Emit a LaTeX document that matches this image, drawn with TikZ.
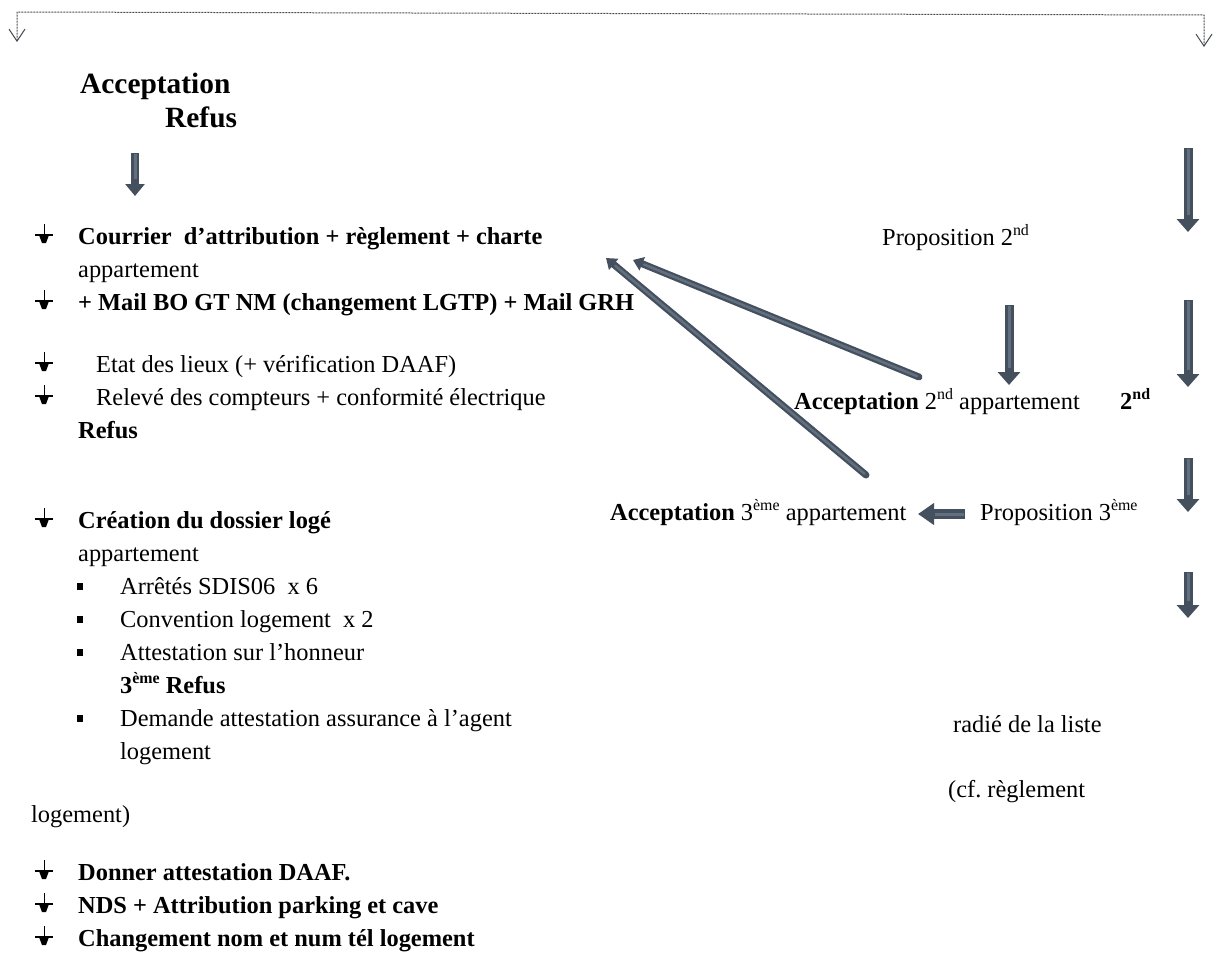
\documentclass[tikz,border=0pt]{standalone}
\usepackage{fontspec}
\setmainfont{Liberation Serif}
\usetikzlibrary{arrows.meta,positioning}

\definecolor{arrowslate}{RGB}{68,80,94}
\definecolor{arrowlight}{RGB}{98,111,126}
\definecolor{lineslate}{RGB}{70,74,82}

\newcommand{\ordsup}[1]{\raisebox{0.38em}{\fontsize{15.9}{16}\selectfont #1}}

\tikzset{
  pinmark/.pic={
    \draw[line width=1pt] (0,-20) -- (0,-9);
    \draw[line width=1.3pt] (-9,-9) -- (9,-9);
    \fill (-5,-9) -- (5,-9) -- (2,-1) -- (-2,-1) -- cycle;
  },
  squaremark/.pic={
    \fill (-3,-11) rectangle (3,-4);
  }
}

\begin{document}
\begin{tikzpicture}[x=1pt, y=-1pt,
  txt/.style={anchor=base west, inner sep=0pt, font=\fontsize{24.4}{30}\selectfont},
  bold txt/.style={txt, font=\fontsize{24.4}{30}\selectfont\bfseries},
  big txt/.style={anchor=base west, inner sep=0pt, font=\fontsize{29.4}{34}\selectfont\bfseries},
  block arrow/.style={draw=arrowslate, line width=9pt, -{Triangle[width=22pt,length=13pt]},
    postaction={draw=arrowlight, line width=3pt, arrows=-, shorten >=17pt, shorten <=1pt}},
  thin arrow/.style={draw=arrowslate, line width=7pt, line cap=round, -{Triangle[width=14pt,length=10pt]},
    postaction={draw=arrowlight, line width=2.5pt, arrows=-, shorten >=12pt, shorten <=2pt}},
  top link/.style={draw=lineslate, line width=1pt, dash pattern=on 2pt off 1pt,
    {Straight Barb[length=12pt,width=16pt]}-{Straight Barb[length=12pt,width=16pt]}}]
  \useasboundingbox (0,0) rectangle (1216,956);

  % top link
  \coordinate (leftend) at (17,42);
  \coordinate (leftcorner) at (17,12);
  \coordinate (rightcorner) at (1204,15);
  \coordinate (rightend) at (1204,47);
  \draw[top link] (leftend) -- (leftcorner) -- (rightcorner) -- (rightend);

  % left column
  \node[big txt] (accept) at (80,93) {Acceptation};
  \node[big txt] (refus) at (165,127) {Refus};
  \coordinate (refustop) at (135,153);
  \coordinate (refustip) at (135,196);
  \draw[block arrow, line width=8pt, -{Triangle[width=19pt,length=12pt]}] (refustop) -- (refustip);

  \node[bold txt] (courrier) at (78,244) {Courrier\ \ d’attribution + règlement + charte};
  \node[txt] (appt1) at (78,277) {appartement};
  \node[bold txt] (mail) at (78,310) {+ Mail BO GT NM (changement LGTP) + Mail GRH};
  \node[txt] (etat) at (96,372) {Etat des lieux (+ vérification DAAF)};
  \node[txt] (releve) at (96,405) {Relevé des compteurs + conformité électrique};
  \node[bold txt] (refus2) at (78,438) {Refus};

  \node[bold txt] (creation) at (78,528) {Création du dossier logé};
  \node[txt] (appt2) at (78,561) {appartement};
  \node[txt] (arretes) at (120,594) {Arrêtés SDIS06\ \ x 6};
  \node[txt] (convention) at (120,627) {Convention logement\ \ x 2};
  \node[txt] (attestation) at (120,660) {Attestation sur l’honneur};
  \node[bold txt] (refus3) at (120,693) {3\ordsup{ème} Refus};
  \node[txt] (demande) at (120,726) {Demande attestation assurance à l’agent};
  \node[txt] (logement) at (120,759) {logement};
  \node[txt] (logementp) at (31,822) {logement)};

  \node[bold txt] (donner) at (78,880) {Donner attestation DAAF.};
  \node[bold txt] (nds) at (78,913) {NDS + Attribution parking et cave};
  \node[bold txt] (changement) at (78,946) {Changement nom et num tél logement};

  \foreach \y in {244,310,372,405,528,880,913,946}
    \pic at (44,\y) {pinmark};
  \foreach \y in {594,627,660,726}
    \pic at (80,\y) {squaremark};

  % right column
  \node[txt] (prop2) at (882,245) {Proposition 2\ordsup{nd}};
  \node[txt] (acc2) at (794,409) {\textbf{Acceptation} 2\ordsup{nd} appartement};
  \node[bold txt] (second) at (1120,409) {2\ordsup{nd}};
  \node[txt] (acc3) at (610,520) {\textbf{Acceptation} 3\ordsup{ème} appartement};
  \node[txt] (prop3) at (980,520) {Proposition 3\ordsup{ème}};
  \node[txt] (radie) at (953,732) {radié de la liste};
  \node[txt] (cfreg) at (948,797) {(cf.\ règlement};

  \coordinate (midtop) at (1009,305);
  \coordinate (midtip) at (1009,385);
  \draw[block arrow] (midtop) -- (midtip);

  \coordinate (ronetop) at (1188,148);
  \coordinate (ronetip) at (1188,232);
  \coordinate (rtwotop) at (1188,300);
  \coordinate (rtwotip) at (1188,387);
  \coordinate (rthreetop) at (1188,458);
  \coordinate (rthreetip) at (1188,512);
  \coordinate (rfourtop) at (1188,572);
  \coordinate (rfourtip) at (1188,618);
  \draw[block arrow] (ronetop) -- (ronetip);
  \draw[block arrow] (rtwotop) -- (rtwotip);
  \draw[block arrow] (rthreetop) -- (rthreetip);
  \draw[block arrow] (rfourtop) -- (rfourtip);

  \coordinate (propthreetail) at (965,514);
  \coordinate (propthreetip) at (918,514);
  \draw[block arrow, line width=10pt, -{Triangle[width=21pt,length=16pt]}] (propthreetail) -- (propthreetip);

  % back to the letter
  \coordinate (acctwotail) at (919,377);
  \coordinate (acctwotip) at (633,260);
  \coordinate (accthreetail) at (866,475);
  \coordinate (accthreetip) at (606,258);
  \draw[thin arrow] (acctwotail) -- (acctwotip);
  \draw[thin arrow] (accthreetail) -- (accthreetip);
\end{tikzpicture}
\end{document}
